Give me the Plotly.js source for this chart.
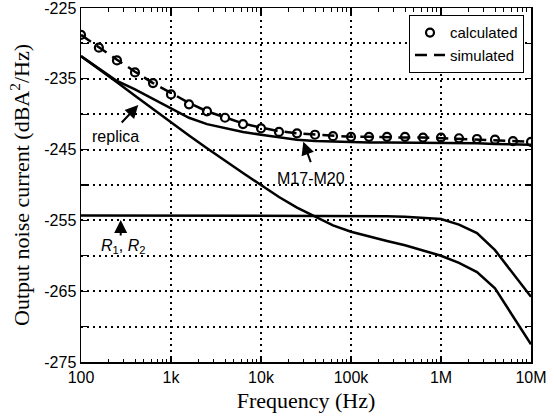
<!DOCTYPE html>
<html>
<head>
<meta charset="utf-8">
<script src="https://cdn.plot.ly/plotly-3.0.1.min.js"></script>
<style>html,body{margin:0;padding:0;background:#fff;}#chart{width:554px;height:420px;}</style>
</head>
<body>
<div id="chart"></div>
<script>
// Frequencies (Hz), 5 points per decade
var freq = [100, 158, 251, 398, 631, 1000, 1585, 2512, 3981, 6310,
            10000, 15849, 25119, 39811, 63096, 100000, 158489, 251189, 398107, 630957,
            1000000, 1584893, 2511886, 3981072, 6309573, 10000000];

// Output noise current (dBA^2/Hz)
var calculated = [-228.8, -230.6, -232.4, -234.1, -235.6, -237.2, -238.6, -239.6, -240.5, -241.4,
                  -242.0, -242.5, -242.7, -242.9, -243.1, -243.2, -243.2, -243.2, -243.2, -243.3,
                  -243.3, -243.4, -243.5, -243.6, -243.8, -243.9];
var simulated  = [-228.8, -230.6, -232.3, -234.0, -235.6, -237.0, -238.4, -239.6, -240.5, -241.3,
                  -241.9, -242.4, -242.7, -242.9, -243.1, -243.2, -243.2, -243.3, -243.3, -243.3,
                  -243.4, -243.5, -243.6, -243.7, -243.8, -243.9];
var m17m20     = [-231.8, -233.5, -235.3, -236.5, -237.8, -239.2, -240.5, -241.4, -242.0, -242.5,
                  -242.9, -243.3, -243.6, -243.8, -243.9, -244.0, -244.0, -244.0, -244.0, -244.0,
                  -244.0, -244.1, -244.1, -244.2, -244.2, -244.3];
var replica    = [-231.8, -233.7, -235.5, -237.4, -239.3, -241.2, -243.0, -244.8, -246.6, -248.3,
                  -250.0, -251.7, -253.2, -254.5, -255.7, -256.6, -257.3, -257.9, -258.5, -259.2,
                  -260.0, -261.0, -262.3, -264.6, -268.6, -272.5];
var r1r2       = [-254.3, -254.3, -254.3, -254.3, -254.3, -254.3, -254.3, -254.3, -254.3, -254.3,
                  -254.3, -254.3, -254.3, -254.3, -254.3, -254.3, -254.4, -254.4, -254.5, -254.6,
                  -254.8, -255.6, -256.8, -259.2, -262.5, -265.8];

var xTickVals = [100, 1000, 10000, 100000, 1000000, 10000000];
var xTickText = ['100', '1k', '10k', '100k', '1M', '10M'];
var xMinorVals = [200,300,400,500,600,700,800,900,
                  2000,3000,4000,5000,6000,7000,8000,9000,
                  20000,30000,40000,50000,60000,70000,80000,90000,
                  200000,300000,400000,500000,600000,700000,800000,900000,
                  2000000,3000000,4000000,5000000,6000000,7000000,8000000,9000000];
var yTickVals = [-275, -265, -255, -245, -235, -225];
var yTickText = ['-275', '-265', '-255', '-245', '-235', '-225'];
var yMinorVals = [-270, -260, -250, -240, -230];

var sans = 'Liberation Sans, Arial, sans-serif';
var serif = 'Liberation Serif, Times New Roman, serif';

var lineStyle = {color: '#000', width: 2.5};
var traces = [
  {x: freq, y: m17m20, mode: 'lines', line: lineStyle, showlegend: false, name: 'M17-M20'},
  {x: freq, y: replica, mode: 'lines', line: lineStyle, showlegend: false, name: 'replica'},
  {x: freq, y: r1r2, mode: 'lines', line: lineStyle, showlegend: false, name: 'R1, R2'},
  {x: freq, y: simulated, mode: 'lines', name: 'simulated', legendrank: 2,
   line: {color: '#000', width: 2.5, dash: '12px,7px'}},
  {x: freq, y: calculated, mode: 'markers', name: 'calculated', legendrank: 1,
   marker: {symbol: 'circle-open', size: 8, color: '#000', line: {color: '#000', width: 2.2}}}
];

var axisCommon = {
  showline: true, linecolor: '#000', linewidth: 1.5, mirror: 'ticks',
  ticks: 'inside', ticklen: 6, tickwidth: 1.2, tickcolor: '#000',
  showgrid: true, gridcolor: '#000', gridwidth: 2, griddash: '2px,4px',
  zeroline: false, ticklabeloverflow: 'allow',
  tickfont: {family: sans, size: 16, color: '#000'}
};

var layout = {
  width: 554, height: 420,
  margin: {l: 81, r: 23, t: 8, b: 58},
  paper_bgcolor: '#fff', plot_bgcolor: '#fff',
  showlegend: true,
  xaxis: Object.assign({}, axisCommon, {
    type: 'log', range: [2, 7], tickmode: 'array', tickvals: xTickVals, ticktext: xTickText,
    minor: {tickmode: 'array', tickvals: xMinorVals, ticks: 'inside', ticklen: 3.5, tickwidth: 1, tickcolor: '#000', showgrid: false},
    title: {text: 'Frequency (Hz)', font: {family: serif, size: 22, color: '#000'}, standoff: 8}
  }),
  yaxis: Object.assign({}, axisCommon, {
    range: [-275, -225], tickmode: 'array', tickvals: yTickVals, ticktext: yTickText,
    minor: {tickmode: 'array', tickvals: yMinorVals, ticks: 'inside', ticklen: 6, tickwidth: 1.2, tickcolor: '#000',
            showgrid: true, gridcolor: '#000', gridwidth: 2, griddash: '2px,4px'},
    title: {text: 'Output noise current (dBA<sup>2</sup>/Hz)', font: {family: serif, size: 22, color: '#000'}, standoff: 8}
  }),
  legend: {
    x: 0.984, xanchor: 'right', y: 0.98, yanchor: 'top',
    bgcolor: '#fff', bordercolor: '#000', borderwidth: 1.2,
    font: {family: sans, size: 15, color: '#000'}, tracegroupgap: 0
  },
  annotations: [
    {xref: 'paper', yref: 'paper', x: 0.1273, y: 0.726, ax: -18, ay: 19, text: '', showarrow: true,
     arrowhead: 2, arrowsize: 1.3, arrowwidth: 2, arrowcolor: '#000'},
    {xref: 'paper', yref: 'paper', x: 0.0756, y: 0.6356, text: 'replica', showarrow: false,
     xanchor: 'center', yanchor: 'middle', font: {family: sans, size: 16, color: '#000'}},
    {xref: 'paper', yref: 'paper', x: 0.494, y: 0.6223, ax: 8, ay: 22, text: '', showarrow: true,
     arrowhead: 2, arrowsize: 1.3, arrowwidth: 2, arrowcolor: '#000'},
    {xref: 'paper', yref: 'paper', x: 0.511, y: 0.5184, text: 'M17-M20', showarrow: false,
     xanchor: 'center', yanchor: 'middle', font: {family: sans, size: 16, color: '#000'}},
    {xref: 'paper', yref: 'paper', x: 0.0882, y: 0.4011, ax: 0, ay: 17, text: '', showarrow: true,
     arrowhead: 2, arrowsize: 1.3, arrowwidth: 2, arrowcolor: '#000'},
    {xref: 'paper', yref: 'paper', x: 0.0933, y: 0.325, text: '<i>R</i><sub>1</sub>, <i>R</i><sub>2</sub>', showarrow: false,
     xanchor: 'center', yanchor: 'middle', font: {family: sans, size: 16, color: '#000'}}
  ]
};

Plotly.newPlot('chart', traces, layout, {displayModeBar: false, staticPlot: true});
</script>
</body>
</html>
